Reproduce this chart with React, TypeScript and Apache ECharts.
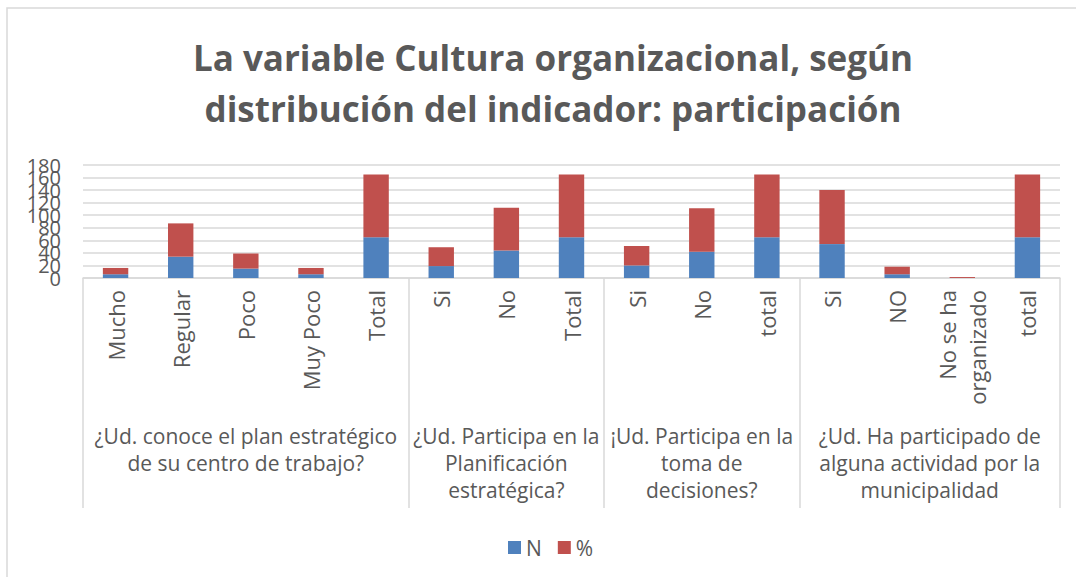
import React, { useEffect, useRef } from "react";
import * as echarts from "echarts";

const categories = ["Mucho", "Regular", "Poco", "Muy Poco", "Total", "Si", "No", "Total", "Si", "No", "total", "Si", "NO", "No se ha\norganizado", "total"];
const seriesN = [6, 34, 15, 6, 65, 19, 44, 65, 20, 42, 65, 54, 6, 0, 65];
const seriesPct = [10, 53, 24, 10, 100, 30, 68, 100, 31, 69, 100, 86, 12, 1.5, 100];
const groupLabels = [
  "¿Ud. conoce el plan estratégico\nde su centro de trabajo?",
  "¿Ud. Participa en la\nPlanificación\nestratégica?",
  "¡Ud. Participa en la\ntoma de\ndecisiones?",
  "¿Ud. Ha participado de\nalguna actividad por la\nmunicipalidad",
];
const groupSizes = [5, 3, 3, 4];
const yTicks = [0, 20, 40, 60, 80, 100, 120, 140, 160, 180];

export default function App() {
  const ref = useRef<HTMLDivElement>(null);
  useEffect(() => {
    if (!ref.current) return;
    const chart = echarts.init(ref.current, null, { renderer: "svg" });
    const bounds: number[] = [-0.5];
    const centers: number[] = [];
    let start = 0;
    groupSizes.forEach((s) => {
      centers.push(start + (s - 1) / 2);
      start += s;
      bounds.push(start - 0.5);
    });
    const font = "Open Sans";
    const grey = "#595959";
    const yLabel = (vals: number[]) => ({
      customValues: vals,
      fontFamily: font,
      fontSize: 20,
      color: grey,
      margin: 22,
      showMinLabel: true,
      showMaxLabel: true,
      hideOverlap: false,
    });
    const yBase = {
      type: "value",
      position: "left",
      min: yTicks[0],
      max: yTicks[yTicks.length - 1],
      interval: 20,
      axisLine: { show: false },
      axisTick: { show: false },
    };
    chart.setOption({
      animation: false,
      textStyle: { fontFamily: font },
      title: {
        text: "La variable Cultura organizacional, según\ndistribución del indicador: participación",
        left: 548,
        top: 27,
        textAlign: "center",
        textStyle: { fontFamily: font, fontWeight: "bold", fontSize: 35, lineHeight: 51, color: grey },
      },
      graphic: [
        {
          type: "rect",
          shape: { x: 7, y: 8, width: 1200, height: 700 },
          style: { fill: "none", stroke: "#d9d9d9", lineWidth: 1.5 },
          silent: true,
        },
      ],
      legend: {
        left: 503,
        top: 532,
        itemWidth: 13,
        itemHeight: 13,
        itemGap: 16,
        icon: "rect",
        textStyle: { fontFamily: font, fontSize: 21, color: grey },
        data: ["N", "%"],
      },
      grid: { left: 83, right: 16, top: 165, bottom: 299, containLabel: false },
      xAxis: [
        {
          type: "category",
          data: categories,
          axisLine: { lineStyle: { color: "#d9d9d9", width: 1.5 } },
          axisTick: { show: false },
          axisLabel: {
            rotate: 90,
            interval: 0,
            margin: 12,
            fontFamily: font,
            fontSize: 22,
            lineHeight: 30,
            color: grey,
          },
        },
        {
          type: "value",
          min: -0.5,
          max: categories.length - 0.5,
          position: "bottom",
          axisLine: { show: false },
          splitLine: { show: false },
          axisTick: {
            show: true,
            customValues: bounds,
            length: 230,
            lineStyle: { color: "#d9d9d9", width: 1.5 },
          },
          axisLabel: {
            customValues: centers,
            margin: 144,
            fontFamily: font,
            fontSize: 21,
            lineHeight: 27,
            color: grey,
            verticalAlign: "top",
            formatter: (v: number) => {
              const i = centers.findIndex((c) => Math.abs(c - v) < 1e-6);
              return i >= 0 ? groupLabels[i] : "";
            },
          },
        },
      ],
      yAxis: [
        {
          ...yBase,
          splitLine: { lineStyle: { color: "#d9d9d9", width: 1.5 } },
          axisLabel: yLabel(yTicks.filter((_, i) => i % 2 === 0)),
        },
        {
          ...yBase,
          splitLine: { show: false },
          axisLabel: yLabel(yTicks.filter((_, i) => i % 2 === 1)),
        },
      ],
      series: [
        {
          name: "N",
          type: "bar",
          stack: "total",
          barWidth: "39%",
          data: seriesN,
          itemStyle: { color: "#4f81bd" },
        },
        {
          name: "%",
          type: "bar",
          stack: "total",
          barWidth: "39%",
          data: seriesPct,
          itemStyle: { color: "#c0504d" },
        },
      ],
    });
    return () => chart.dispose();
  }, []);
  return <div ref={ref} style={{ position: "absolute", left: 0, top: 0, width: 1076, height: 577 }} />;
}
